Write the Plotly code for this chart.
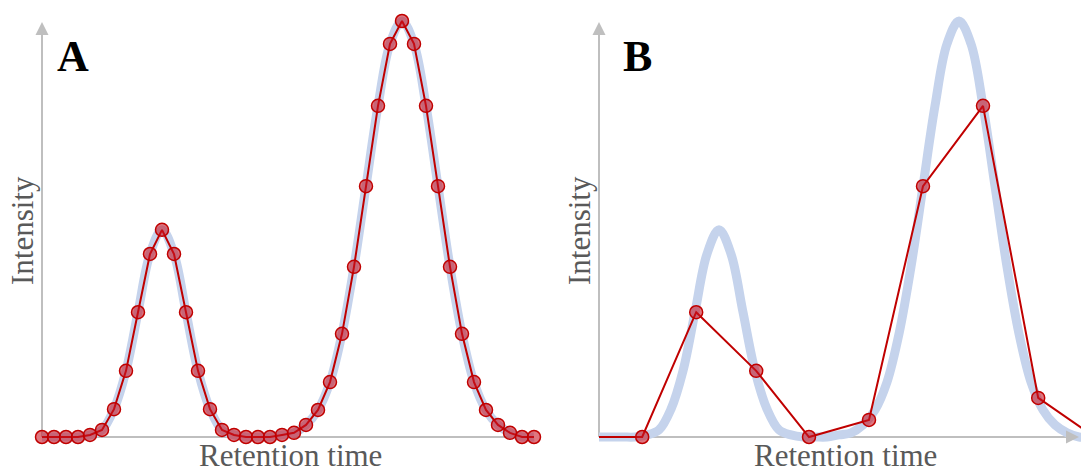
import plotly.graph_objects as go

# Chromatogram sampled at a fine, regular interval (panel A)
retention_a = list(range(42))
intensity_a = [0, 0, 0, 0, 0.5, 1.7, 6.7, 15.9, 30.0, 44.0, 49.8, 44.0, 30.0, 15.9,
               6.7, 1.7, 0.5, 0, 0, 0, 0.5, 1.0, 2.9, 6.5, 13.2, 24.8, 40.9, 60.3,
               79.6, 94.5, 100, 94.5, 79.6, 60.3, 40.9, 24.8, 13.2, 6.5, 2.9, 1.0, 0, 0]

# Same chromatogram, sampled too coarsely (panel B)
retention_b = [-1.1, 3.6, 8.1, 13.1, 17.5, 22.5, 27.0, 32.0, 36.6, 41.3]
intensity_b = [0, 0, 30.0, 15.9, 0, 4.1, 60.3, 79.6, 9.4, 0]

panel_labels = ["A", "B"]
x_title = "Retention time"
y_title = "Intensity"

W, H = 1081, 474
BLUE = "rgb(197,211,236)"
RED = "#c00000"
GREY = "#bfbfbf"
TEXT_GREY = "#595959"
SERIF = "Liberation Serif, Times New Roman, serif"


def px(x):
    return x / W


def py(y):
    return 1 - y / H


fig = go.Figure()

for xa, ya, xs, ys in [("x", "y", retention_a, intensity_a),
                       ("x2", "y2", retention_b, intensity_b)]:
    fig.add_trace(go.Scatter(
        x=retention_a, y=intensity_a, xaxis=xa, yaxis=ya, mode="lines",
        line=dict(color=BLUE, width=9, shape="spline", smoothing=1.0),
        hoverinfo="skip", showlegend=False))
    fig.add_trace(go.Scatter(
        x=xs, y=ys, xaxis=xa, yaxis=ya, mode="lines+markers",
        line=dict(color=RED, width=2),
        marker=dict(size=13, color="rgba(200,20,35,0.58)",
                    line=dict(color=RED, width=1.5)),
        showlegend=False))

# 12 px per time unit, 4.16 px per intensity unit, baseline at y=437 px
yr = [(437 - H) / 4.16, 437 / 4.16]
hidden = dict(visible=False, fixedrange=True)
fig.update_layout(
    width=W, height=H,
    margin=dict(l=0, r=0, t=0, b=0),
    paper_bgcolor="white", plot_bgcolor="rgba(0,0,0,0)",
    xaxis=dict(domain=[0, px(560)], range=[(0 - 42) / 12, (560 - 42) / 12], **hidden),
    yaxis=dict(domain=[0, 1], range=yr, **hidden),
    xaxis2=dict(domain=[px(599), 1], range=[0, (W - 599) / 12], anchor="y2", **hidden),
    yaxis2=dict(domain=[0, 1], range=yr, anchor="x2", **hidden),
)

shapes = []
annotations = []
for x0, xend, arrow_x in [(42, 534, False), (599, 1079, True)]:
    # axis lines
    shapes.append(dict(type="line", xref="paper", yref="paper", layer="below",
                       x0=px(x0), x1=px(x0), y0=py(437), y1=py(30),
                       line=dict(color=GREY, width=2)))
    shapes.append(dict(type="line", xref="paper", yref="paper", layer="below",
                       x0=px(x0), x1=px(xend - (8 if arrow_x else 0)), y0=py(437), y1=py(437),
                       line=dict(color=GREY, width=2)))
    # arrow heads
    annotations.append(dict(xref="paper", yref="paper", x=px(x0), y=py(22),
                            ax=0, ay=14, showarrow=True, text="",
                            arrowhead=2, arrowsize=1.3, arrowwidth=2, arrowcolor=GREY))
    if arrow_x:
        annotations.append(dict(xref="paper", yref="paper", x=px(xend), y=py(437),
                                ax=-14, ay=0, showarrow=True, text="",
                                arrowhead=2, arrowsize=1.3, arrowwidth=2, arrowcolor=GREY))

for label, lx, yx, xx in [(panel_labels[0], 73, 23, 290), (panel_labels[1], 637, 580, 845)]:
    annotations.append(dict(xref="paper", yref="paper", x=px(lx), y=py(57),
                            xanchor="center", yanchor="middle", showarrow=False,
                            text="<b>%s</b>" % label,
                            font=dict(family=SERIF, size=44, color="black")))
    annotations.append(dict(xref="paper", yref="paper", x=px(yx), y=py(231),
                            xanchor="center", yanchor="middle", showarrow=False,
                            text=y_title, textangle=-90,
                            font=dict(family=SERIF, size=31, color=TEXT_GREY)))
    annotations.append(dict(xref="paper", yref="paper", x=px(xx), y=py(455),
                            xanchor="center", yanchor="middle", showarrow=False,
                            text=x_title, borderpad=0,
                            font=dict(family=SERIF, size=31, color=TEXT_GREY)))

fig.update_layout(shapes=shapes, annotations=annotations)
fig.write_html("out.html")
